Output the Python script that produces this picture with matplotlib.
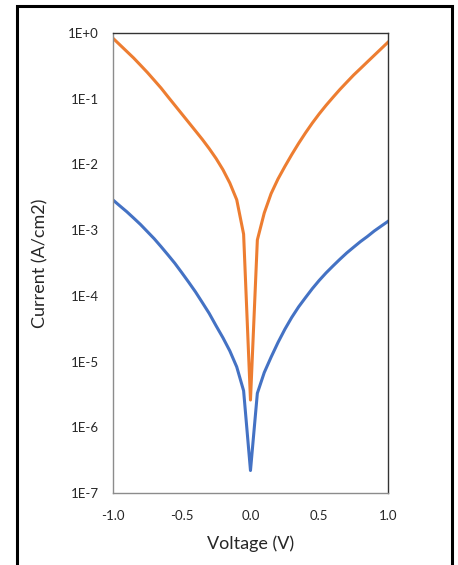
import matplotlib
matplotlib.use("Agg")
from matplotlib import pyplot as plt
from matplotlib.patches import Rectangle

# voltage sweep (V)
voltage = [-1.0, -0.95, -0.9, -0.85, -0.8, -0.75, -0.7, -0.65, -0.6, -0.55,
           -0.5, -0.45, -0.4, -0.35, -0.3, -0.25, -0.2, -0.15, -0.1, -0.05,
           0.0,
           0.05, 0.1, 0.15, 0.2, 0.25, 0.3, 0.35, 0.4, 0.45, 0.5,
           0.55, 0.6, 0.65, 0.7, 0.75, 0.8, 0.85, 0.9, 0.95, 1.0]

# current density (A/cm2)
current_orange = [0.832, 0.661, 0.525, 0.417, 0.324, 0.251, 0.191, 0.145, 0.107, 0.0794,
                  0.0589, 0.0437, 0.0324, 0.0240, 0.0174, 0.0123, 8.3e-3, 5.2e-3, 2.9e-3, 8.7e-4,
                  2.6e-6,
                  7.1e-4, 1.82e-3, 3.6e-3, 6.0e-3, 9.3e-3, 0.0141, 0.0209, 0.0302, 0.0427, 0.0589,
                  0.0794, 0.105, 0.138, 0.178, 0.229, 0.288, 0.363, 0.457, 0.575, 0.724]
current_blue = [2.88e-3, 2.34e-3, 1.91e-3, 1.53e-3, 1.22e-3, 9.5e-4, 7.4e-4, 5.6e-4, 4.2e-4, 3.13e-4,
                2.26e-4, 1.62e-4, 1.15e-4, 7.9e-5, 5.4e-5, 3.5e-5, 2.3e-5, 1.45e-5, 8.3e-6, 3.6e-6,
                2.2e-7,
                3.3e-6, 6.8e-6, 1.17e-5, 1.95e-5, 3.1e-5, 4.7e-5, 6.8e-5, 9.4e-5, 1.29e-4, 1.72e-4,
                2.24e-4, 2.85e-4, 3.6e-4, 4.5e-4, 5.5e-4, 6.7e-4, 8.0e-4, 9.7e-4, 1.15e-3, 1.36e-3]

xticks = [-1.0, -0.5, 0.0, 0.5, 1.0]
xtick_labels = ["-1.0", "-0.5", "0.0", "0.5", "1.0"]
yticks = [1e0, 1e-1, 1e-2, 1e-3, 1e-4, 1e-5, 1e-6, 1e-7]
ytick_labels = ["1E+0", "1E-1", "1E-2", "1E-3", "1E-4", "1E-5", "1E-6", "1E-7"]

plt.rcParams["font.family"] = ["Lato", "DejaVu Sans"]

fig = plt.figure(figsize=(4.58, 5.65), dpi=100)
ax = fig.add_axes([0.2467, 0.1274, 0.6004, 0.8142])

ax.plot(voltage, current_orange, color="#ED7D31", lw=2.2, solid_joinstyle="round")
ax.plot(voltage, current_blue, color="#4472C4", lw=2.2, solid_joinstyle="round")

ax.set_yscale("log")
ax.set_xlim(-1.0, 1.0)
ax.set_ylim(1e-7, 1e0)
ax.set_xticks(xticks)
ax.set_xticklabels(xtick_labels)
ax.set_yticks(yticks)
ax.set_yticklabels(ytick_labels)
ax.minorticks_off()
ax.tick_params(axis="both", length=0, labelsize=9.5, colors="#262626")
ax.tick_params(axis="y", pad=10)
ax.tick_params(axis="x", pad=12)

for side in ["left", "bottom"]:
    ax.spines[side].set_color("#8c8c8c")
    ax.spines[side].set_linewidth(1.0)
for side in ["top", "right"]:
    ax.spines[side].set_color("#333333")
    ax.spines[side].set_linewidth(1.0)

ax.set_xlabel("Voltage (V)", fontsize=13, color="#262626", labelpad=10)
ax.set_ylabel("Current (A/cm2)", fontsize=13, color="#262626", labelpad=14)

# black frame round the whole chart
fig.patches.append(Rectangle((17 / 458, -0.05), (452 - 17) / 458, 1.05 - 6 / 565,
                             transform=fig.transFigure, fill=False,
                             edgecolor="black", lw=2.2))

fig.savefig("out.png", dpi=100)
